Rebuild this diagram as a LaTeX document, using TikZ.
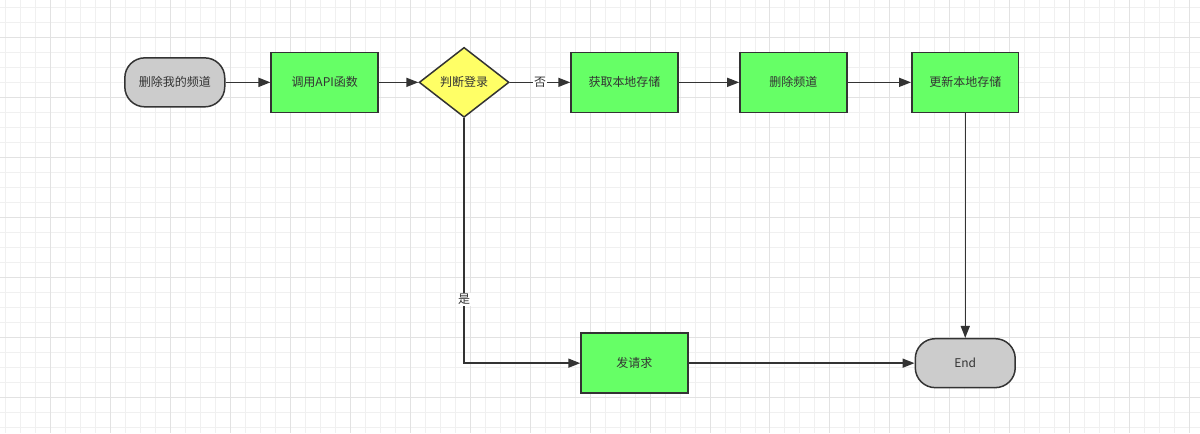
\documentclass[tikz,border=0pt]{standalone}
\usepackage{fontspec}
\setmainfont{Noto Sans CJK SC}
\usetikzlibrary{shapes.geometric,arrows.meta}

\definecolor{ink}{HTML}{333333}
\definecolor{boxgreen}{HTML}{66FF66}
\definecolor{boxgray}{HTML}{CCCCCC}
\definecolor{boxyellow}{HTML}{FFFF66}
\definecolor{gridminor}{HTML}{F0F0F0}
\definecolor{gridmajor}{HTML}{E2E2E2}

\begin{document}
\begin{tikzpicture}[x=1pt,y=-1pt]
            \tikzstyle{box}=[draw=ink,line width=1.5pt,text=ink,font=\fontsize{12}{14}\selectfont,inner sep=0pt]
            \tikzstyle{P}=[box,rectangle,minimum width=107pt,minimum height=60pt,fill=boxgreen]   % process
            \tikzstyle{T}=[box,rectangle,rounded corners=20pt,minimum width=100pt,minimum height=49pt,fill=boxgray] % start / end
            \tikzstyle{D}=[box,diamond,aspect=1.29,minimum width=90pt,minimum height=70pt,fill=boxyellow] % decision
            \tikzstyle{link}=[fill=white,text=ink,font=\fontsize{12}{14}\selectfont,inner sep=1pt]
            \tikzstyle{every edge}=[draw=ink,line width=1.5pt,-{Triangle[length=12pt,width=9pt]}]

            % background grid
            \fill[white] (0,0) rectangle (1200,433);
            \foreach \x in {5,20,...,1195} \draw[gridminor,line width=0.8pt] (\x,0) -- (\x,433);
            \foreach \y in {7,22,...,432} \draw[gridminor,line width=0.8pt] (0,\y) -- (1200,\y);
            \foreach \x in {50,110,...,1190} \draw[gridmajor,line width=0.8pt] (\x,0) -- (\x,433);
            \foreach \y in {37,97,...,432} \draw[gridmajor,line width=0.8pt] (0,\y) -- (1200,\y);
            \useasboundingbox (0,0) rectangle (1200,433);

            \node[T] (start)  at (174.5, 82) {删除我的频道};
            \node[P] (api)    at (324.5, 82) {调用API函数};
            \node[D] (login)  at (464,   82) {判断登录};
            \node[P] (fetch)  at (624.5, 82) {获取本地存储};
            \node[P] (remove) at (793.5, 82) {删除频道};
            \node[P] (update) at (965.5, 82) {更新本地存储};
            \node[P] (req)    at (634.5, 363) {发请求};
            \node[T] (end)    at (965.5, 363) {End};

            \path (start)  edge (api);
            \path (api)    edge (login);
            \path (login)  edge node[link] {否} (fetch);
            \path (fetch)  edge (remove);
            \path (remove) edge (update);
            \path (update) edge (end);
            \path (req)    edge (end);
            \draw[draw=ink,line width=1.5pt,-{Triangle[length=12pt,width=9pt]}] (login.south) |- node[link,pos=0.37] {是} (req.west);
\end{tikzpicture}
\end{document}
